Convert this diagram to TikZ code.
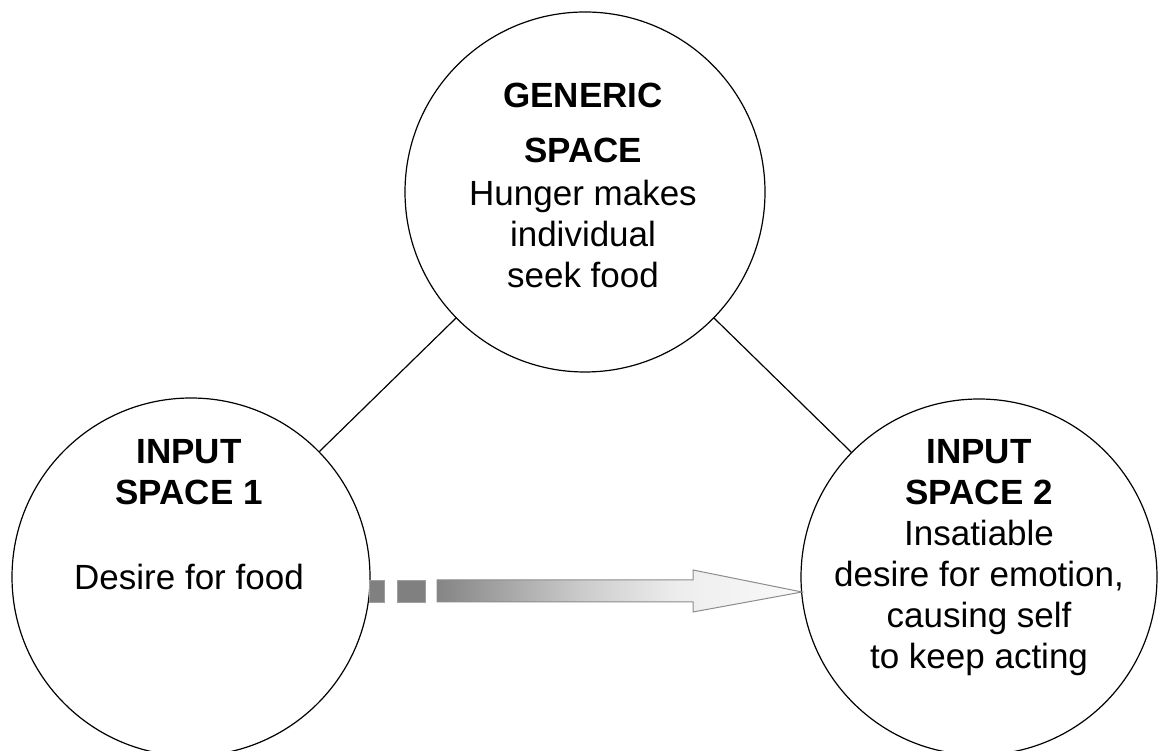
\documentclass[tikz,border=0pt]{standalone}
\usepackage{fontspec}
\setmainfont{Liberation Sans}
\definecolor{shA}{gray}{0.52}
\definecolor{shB}{gray}{0.80}
\definecolor{shC}{gray}{0.93}
\definecolor{shD}{gray}{0.98}
\definecolor{arrowline}{gray}{0.55}
\definecolor{dashfill}{gray}{0.50}
\definecolor{dashline}{gray}{0.62}
\pgfdeclarehorizontalshading{arrowshade}{100bp}{color(0bp)=(shA); color(25bp)=(shA); color(45bp)=(shB); color(58bp)=(shC); color(75bp)=(shD); color(100bp)=(shD)}
\begin{document}
\begin{tikzpicture}[x=1pt,y=1pt,
  space/.style={circle, draw, line width=1.2pt, inner sep=0pt, minimum size=#1},
  labeltext/.style={align=center, anchor=base, font=\fontsize{35}{41}\selectfont, inner sep=0pt},
  link/.style={line width=1.2pt},
  dashbox/.style={fill=dashfill, draw=dashline, line width=0.8pt}]
\useasboundingbox (0,0) rectangle (1158,751);
\node[space=360pt] (G) at (585,559) {};
\node[space=358pt] (L) at (191,174) {};
\node[space=356pt] (R) at (979,174) {};
\draw[link] (L) -- (G);
\draw[link] (G) -- (R);
% arrow
\draw[dashbox] (369,149) rectangle (384,171);
\draw[dashbox] (397,149) rectangle (425,171);
\coordinate (tip) at (802,159);
\shade[shading=arrowshade, draw=arrowline, line width=1pt]
  (437,149) -- (693,149) -- (693,139) -- (tip) -- (693,181) -- (693,171) -- (437,171) -- cycle;
% texts
\node[labeltext] (gt) at (583,463) {\textbf{GENERIC}\\[14pt]\textbf{SPACE}\\[2pt]Hunger makes\\individual\\seek food};
\node[labeltext] (lt) at (189,161) {\textbf{INPUT}\\\textbf{SPACE 1}\\[44pt]Desire for food};
\node[labeltext] (rt) at (979,82) {\textbf{INPUT}\\\textbf{SPACE 2}\\Insatiable\\desire for emotion,\\causing self\\to keep acting};
\end{tikzpicture}
\end{document}
